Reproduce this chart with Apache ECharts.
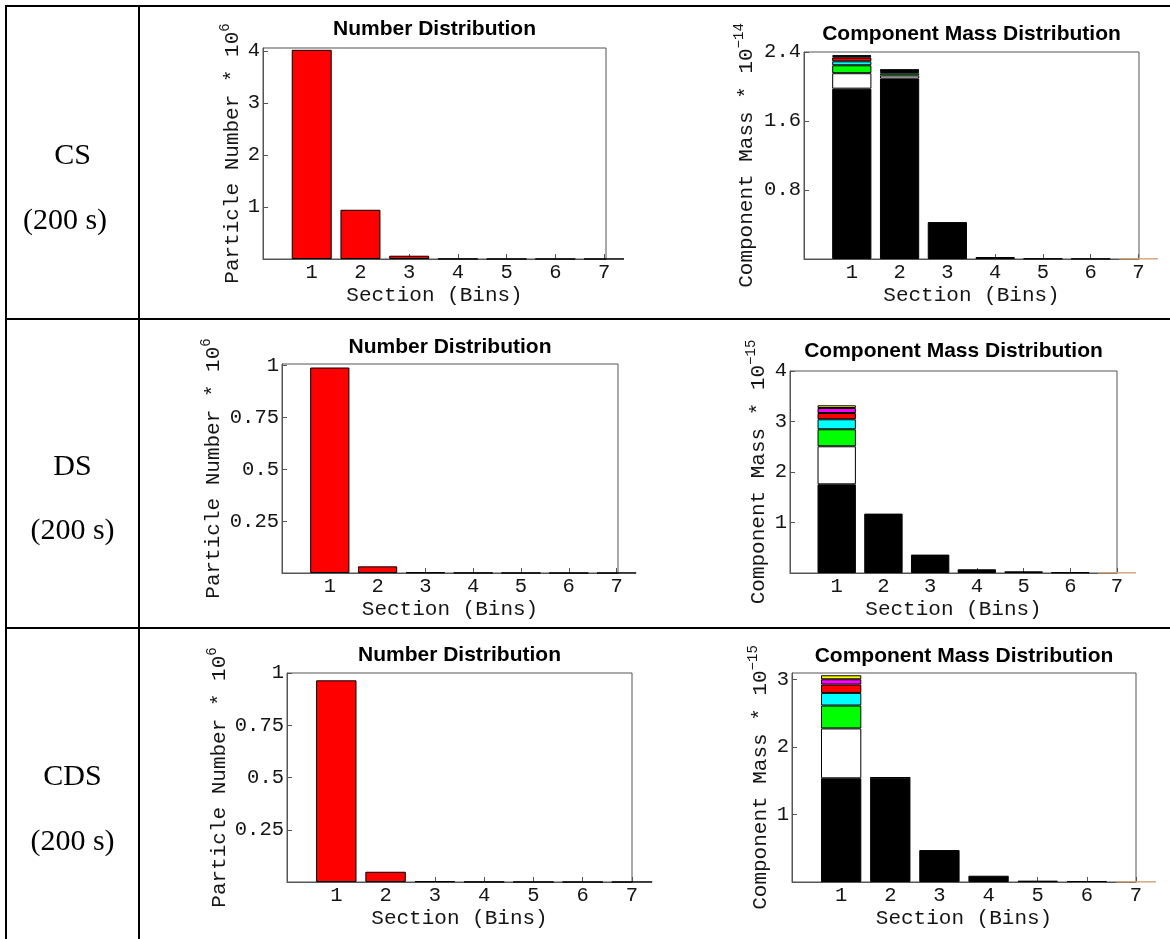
<!DOCTYPE html>
<html>
<head>
<meta charset="utf-8">
<script src="https://cdn.jsdelivr.net/npm/echarts@6/dist/echarts.min.js"></script>
<style>
  html, body { margin: 0; padding: 0; background: #ffffff; }
  #chart { width: 1170px; height: 939px; }
</style>
</head>
<body>
<div id="chart"></div>
<script>
// ---- Data -----------------------------------------------------------------
const bins = [1, 2, 3, 4, 5, 6, 7];
const rowLabels = ['CS', 'DS', 'CDS'];
const timeLabel = '(200 s)';
const numberTitle = 'Number Distribution';
const massTitle = 'Component Mass Distribution';
const xName = 'Section (Bins)';
const numberYName = 'Particle Number * 10';
const massYName = 'Component Mass * 10';

// particle number per section (x 10^6)
const csNumber  = [4.02, 0.946, 0.063, 0.004, 0.002, 0.001, 0.001];
const dsNumber  = [0.991, 0.032, 0.003, 0.001, 0.0005, 0.0003, 0.0002];
const cdsNumber = [0.965, 0.049, 0.004, 0.0012, 0.0005, 0.0003, 0.0002];

// component masses per section, CS in units of 10^-14
const csBlack   = [1.975, 2.092, 0.428, 0.023, 0.005, 0.003, 0];
const csWhite   = [0.179, 0.035, 0, 0, 0, 0, 0];
const csGreen   = [0.092, 0.025, 0, 0, 0, 0, 0];
const csCyan    = [0.046, 0.015, 0, 0, 0, 0, 0];
const csRed     = [0.044, 0.015, 0, 0, 0, 0, 0];
const csMagenta = [0.015, 0.008, 0, 0, 0, 0, 0];
const csYellow  = [0.011, 0.006, 0, 0, 0, 0, 0];
const csTan     = [0, 0, 0, 0, 0, 0, 0.004];

// DS in units of 10^-15
const dsBlack   = [1.756, 1.176, 0.364, 0.073, 0.033, 0.012, 0];
const dsWhite   = [0.753, 0, 0, 0, 0, 0, 0];
const dsGreen   = [0.337, 0, 0, 0, 0, 0, 0];
const dsCyan    = [0.198, 0, 0, 0, 0, 0, 0];
const dsRed     = [0.124, 0, 0, 0, 0, 0, 0];
const dsMagenta = [0.099, 0, 0, 0, 0, 0, 0];
const dsYellow  = [0.054, 0, 0, 0, 0, 0, 0];
const dsTan     = [0, 0, 0, 0, 0, 0, 0.006];

// CDS in units of 10^-15
const cdsBlack   = [1.536, 1.545, 0.473, 0.093, 0.020, 0.015, 0];
const cdsWhite   = [0.739, 0, 0, 0, 0, 0, 0];
const cdsGreen   = [0.339, 0, 0, 0, 0, 0, 0];
const cdsCyan    = [0.187, 0, 0, 0, 0, 0, 0];
const cdsRed     = [0.124, 0, 0, 0, 0, 0, 0];
const cdsMagenta = [0.078, 0, 0, 0, 0, 0, 0];
const cdsYellow  = [0.059, 0.006, 0, 0, 0, 0, 0];
const cdsTan     = [0, 0, 0, 0, 0, 0, 0.005];

// axis tick labels
const csNumberTicks  = [1, 2, 3, 4];
const csMassTicks    = [0.8, 1.6, 2.4];
const dsNumberTicks  = [0.25, 0.5, 0.75, 1];
const dsMassTicks    = [1, 2, 3, 4];
const cdsNumberTicks = [0.25, 0.5, 0.75, 1];
const cdsMassTicks   = [1, 2, 3];

// ---- Styles & layout --------------------------------------------------------
const mono  = '"Liberation Mono", "Courier New", monospace';
const sans  = '"Liberation Sans", Arial, sans-serif';
const serif = '"Liberation Serif", "Times New Roman", serif';
const ink = '#151515';
const frameColor = '#555555';
const numberColor = '#ff0000';
const massColors = ['#000000', '#ffffff', '#00ff00', '#00ffff', '#ff0000', '#ff00ff', '#ffff00', '#d2a679'];

const csMass  = [csBlack, csWhite, csGreen, csCyan, csRed, csMagenta, csYellow, csTan];
const dsMass  = [dsBlack, dsWhite, dsGreen, dsCyan, dsRed, dsMagenta, dsYellow, dsTan];
const cdsMass = [cdsBlack, cdsWhite, cdsGreen, cdsCyan, cdsRed, cdsMagenta, cdsYellow, cdsTan];

const panels = [
  { kind: 'number', values: csNumber, ticks: csNumberTicks, exp: '6', nameGap: 17,
    left: 263, top: 48, right: 606, bottom: 259, xMax: 7.04, yMax: 4.055, titleY: 29.5 },
  { kind: 'mass', comps: csMass, ticks: csMassTicks, exp: '\u221214', nameGap: 44,
    left: 804, top: 52, right: 1139, bottom: 259, xMax: 7.01, yMax: 2.4, titleY: 34 },
  { kind: 'number', values: dsNumber, ticks: dsNumberTicks, exp: '6', nameGap: 55,
    left: 282, top: 364, right: 618, bottom: 573, xMax: 7.03, yMax: 1.008, titleY: 347 },
  { kind: 'mass', comps: dsMass, ticks: dsMassTicks, exp: '\u221215', nameGap: 18,
    left: 790, top: 371, right: 1117, bottom: 573, xMax: 7, yMax: 4, titleY: 351 },
  { kind: 'number', values: cdsNumber, ticks: cdsNumberTicks, exp: '6', nameGap: 54,
    left: 287, top: 673, right: 632, bottom: 882, xMax: 7, yMax: 1, titleY: 655.5 },
  { kind: 'mass', comps: cdsMass, ticks: cdsMassTicks, exp: '\u221215', nameGap: 18,
    left: 792, top: 673, right: 1136, bottom: 882, xMax: 7, yMax: 3.096, titleY: 656 }
];

const rowTops = [6, 319, 628];
const rowHeights = [313, 309, 311];
const labelColX = 72.5;

// ---- Build option -------------------------------------------------------------
const grids = [], xAxes = [], yAxes = [], series = [], graphics = [];

panels.forEach((p, i) => {
  const w = p.right - p.left;
  const h = p.bottom - p.top;
  const barWidth = 0.8 * w / p.xMax + 1;

  grids.push({
    left: p.left, top: p.top, width: w, height: h,
    show: true, borderColor: frameColor, borderWidth: 1,
    backgroundColor: 'transparent', containLabel: false, outerBoundsMode: 'none'
  });

  xAxes.push({
    gridIndex: i, type: 'value', min: 0, max: p.xMax,
    name: xName, nameLocation: 'middle', nameGap: 26, nameMoveOverlap: false,
    nameTextStyle: { fontFamily: mono, fontSize: 21, color: ink },
    axisLine: { show: true, onZero: false, lineStyle: { color: frameColor, width: 1 } },
    axisTick: { show: true, inside: true, length: 5, customValues: bins,
                lineStyle: { color: frameColor, width: 1 } },
    axisLabel: { show: true, customValues: bins, margin: 3,
                 fontFamily: mono, fontSize: 20.5, color: ink,
                 formatter: v => String(v) },
    splitLine: { show: false }
  });

  const unitName = p.kind === 'number' ? numberYName : massYName;
  yAxes.push({
    gridIndex: i, type: 'value', min: 0, max: p.yMax,
    name: '{n|' + unitName + '}{s|' + p.exp + '}',
    nameLocation: 'middle', nameGap: p.nameGap, nameMoveOverlap: false,
    nameTextStyle: {
      rich: {
        n: { fontFamily: mono, fontSize: 21, color: ink, lineHeight: 28 },
        s: { fontFamily: mono, fontSize: 14, color: ink, lineHeight: 14, verticalAlign: 'top' }
      }
    },
    axisLine: { show: true, onZero: false, lineStyle: { color: frameColor, width: 1 } },
    axisTick: { show: true, inside: true, length: 5, customValues: p.ticks,
                lineStyle: { color: frameColor, width: 1 } },
    axisLabel: { show: true, customValues: p.ticks, margin: 3,
                 fontFamily: mono, fontSize: 20.5, color: ink,
                 formatter: v => String(v) },
    splitLine: { show: false }
  });

  if (p.kind === 'number') {
    series.push({
      type: 'bar', xAxisIndex: i, yAxisIndex: i, barWidth: barWidth, clip: true,
      data: bins.map((b, j) => [p.values[j], b]),
      encode: { x: 1, y: 0 },
      itemStyle: { color: numberColor, borderColor: '#000000', borderWidth: 1 },
      emphasis: { disabled: true }
    });
  } else {
    // value listed first so the stack runs along the y dimension
    p.comps.forEach((comp, c) => {
      series.push({
        type: 'bar', xAxisIndex: i, yAxisIndex: i, barWidth: barWidth, clip: true,
        stack: 'mass' + i,
        data: bins.map((b, j) => [comp[j] ? comp[j] : '-', b]),
        encode: { x: 1, y: 0 },
        itemStyle: {
          color: massColors[c],
          borderColor: c === massColors.length - 1 ? massColors[c] : '#000000',
          borderWidth: 1
        },
        emphasis: { disabled: true }
      });
    });
  }

  graphics.push({
    type: 'text', x: (p.left + p.right) / 2, y: p.titleY, silent: true,
    style: {
      text: p.kind === 'number' ? numberTitle : massTitle,
      font: 'bold 21px ' + sans, fill: '#000000',
      textAlign: 'center', textVerticalAlign: 'middle',
      align: 'center', verticalAlign: 'middle'
    }
  });
});

// table rules
const rule = (x1, y1, x2, y2) => ({
  type: 'line', silent: true, shape: { x1, y1, x2, y2 },
  style: { stroke: '#000000', lineWidth: 2 }
});
graphics.push(rule(5, 6, 1170, 6));
graphics.push(rule(6, 5, 6, 939));
graphics.push(rule(139, 5, 139, 939));
graphics.push(rule(5, 319, 1170, 319));
graphics.push(rule(5, 628, 1170, 628));

// row labels
rowLabels.forEach((lab, r) => {
  const top = rowTops[r], h = rowHeights[r];
  [lab, timeLabel].forEach((t, k) => {
    graphics.push({
      type: 'text', silent: true,
      x: (r === 0 && k === 1) ? 65 : labelColX,
      y: top + h * (k === 0 ? 0.48 : 0.687),
      style: {
        text: t, font: '30px ' + serif, fill: '#000000',
        textAlign: 'center', textVerticalAlign: 'middle',
        align: 'center', verticalAlign: 'middle'
      }
    });
  });
});

const chart = echarts.init(document.getElementById('chart'), null, { renderer: 'canvas' });
chart.setOption({
  backgroundColor: '#ffffff',
  animation: false,
  tooltip: { show: false },
  grid: grids,
  xAxis: xAxes,
  yAxis: yAxes,
  series: series,
  graphic: { elements: graphics }
});
</script>
</body>
</html>
